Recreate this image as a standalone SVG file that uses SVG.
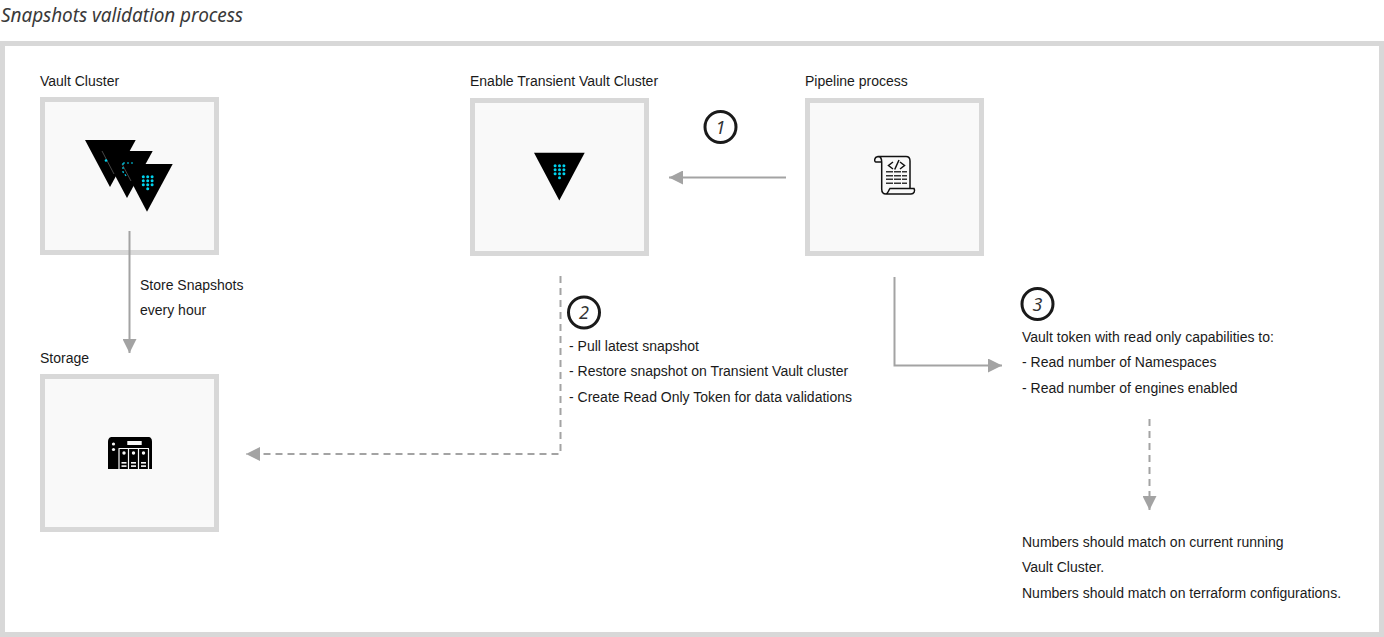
<svg xmlns="http://www.w3.org/2000/svg" width="1384" height="637" viewBox="0 0 1384 637">
<style>
.box{fill:#f9f9f9;stroke:#d8d8d8;stroke-width:5}
.t{font-family:"Liberation Sans",Arial,sans-serif;font-size:14px;fill:#1a1a1a}
.title{font-family:"Noto Sans","Lato",sans-serif;font-style:italic;font-size:19px;fill:#3a3a3a}
.num{font-family:"Noto Sans","Lato",sans-serif;font-style:italic;font-size:18px;fill:#333;text-anchor:middle}
.ring{fill:#fff;stroke:#1a1a1a;stroke-width:3}
.c{fill:none;stroke:#a3a3a3;stroke-width:2}
.d{stroke-dasharray:7 5}
.tri{fill:#000}
.dot{fill:#00d4f0}
.ic{fill:none;stroke:#111;stroke-width:1.500}
</style>
<defs>
<marker id="ah" markerUnits="userSpaceOnUse" markerWidth="15" markerHeight="14" refX="14" refY="7" orient="auto"><path d="M0 0L14 7L0 14Z" fill="#a3a3a3"/></marker>
<g id="dots"><circle cx="-4.400" cy="-4" r="1.500" class="dot"/><circle cx="0" cy="-4" r="1.500" class="dot"/><circle cx="4.400" cy="-4" r="1.500" class="dot"/><circle cx="-4.400" cy="0" r="1.500" class="dot"/><circle cx="0" cy="0" r="1.500" class="dot"/><circle cx="4.400" cy="0" r="1.500" class="dot"/><circle cx="-4.400" cy="4" r="1.500" class="dot"/><circle cx="0" cy="4" r="1.500" class="dot"/><circle cx="4.400" cy="4" r="1.500" class="dot"/><circle cx="0" cy="8" r="1.500" class="dot"/></g>
</defs>
<rect width="1384" height="637" fill="#fff"/>
<text class="title" x="1" y="22" textLength="242" lengthAdjust="spacing">Snapshots validation process</text>
<rect id="frame" x="2.500" y="43.500" width="1379" height="591" fill="#fff" stroke="#d8d8d8" stroke-width="5"/>
<g id="vault-cluster">
<text class="t" x="40" y="86">Vault Cluster</text>
<rect class="box" x="42.500" y="99.500" width="174" height="153"/>
<path class="tri" d="M85 140H135.700L110 187Z"/>
<path class="tri" d="M102 151H152.700L127 198Z"/>
<path class="tri" d="M122 164H172.700L147 211.700Z"/>
<path d="M102 151L114 174M122 164L131 181" stroke="#666" stroke-width=".7" fill="none"/>
<circle cx="106" cy="160.500" r="1.300" class="dot"/>
<path d="M123 163H134M123 163V172L127 177" stroke="#00d4f0" stroke-width="1.200" stroke-dasharray="2 2" fill="none"/>
<use href="#dots" x="147.700" y="180.700"/>
</g>
<g id="transient-vault">
<text class="t" x="470" y="86">Enable Transient Vault Cluster</text>
<rect class="box" x="472.500" y="100.500" width="174" height="153"/>
<path class="tri" d="M534 152.700H584.700L559.300 200.500Z"/>
<use href="#dots" x="559.500" y="169.700"/>
</g>
<g id="pipeline">
<text class="t" x="805" y="86">Pipeline process</text>
<rect class="box" x="807.500" y="100.500" width="174" height="153"/>
<path class="ic" d="M881.700 162H876C874 162 874 157 878 156.500H906C909 156.500 910 158 910 161V188M878 156.500C881 156.500 881.700 159 881.700 162V189C881.700 192 883 194 886 194H911C914 194 915.500 191 914 188.500H890C888.500 190 888.500 193 886 194"/>
<path d="M893 162L888.500 165.500L893 169M900 162L904.500 165.500L900 169M899 160L894.700 169.500" fill="none" stroke="#111" stroke-width="1.500"/>
<path d="M886 171.700H907M886 175.700H907M886 179.300H907M886 183.300H907" stroke="#333" stroke-width="1.500" fill="none" stroke-dasharray="7 1"/>
</g>
<g id="storage">
<text class="t" x="40" y="363">Storage</text>
<rect class="box" x="42.500" y="376.500" width="174" height="153"/>
<path d="M108 442C108 438 110 437 112 437H148C151 437 152 439 152 442V469H108Z" fill="#000"/>
<rect x="127.300" y="441" width="14.400" height="4" fill="#f9f9f9"/>
<circle cx="113.500" cy="444" r="1.600" fill="#f9f9f9"/><circle cx="113.500" cy="449.500" r="1.600" fill="#f9f9f9"/>
<path d="M119 449V469M128.500 449V469M138.500 449V469M148.500 449V469M118.500 448.500H149" stroke="#f9f9f9" stroke-width="1.200" fill="none"/>
<g fill="#f9f9f9"><circle cx="124" cy="453" r="1.700"/><circle cx="133.500" cy="453" r="1.700"/><circle cx="143.500" cy="453" r="1.700"/><rect x="121.500" y="462" width="5" height="1.600"/><rect x="131" y="462" width="5" height="1.600"/><rect x="141" y="462" width="5" height="1.600"/><rect x="121.500" y="465.300" width="5" height="1.600"/><rect x="131" y="465.300" width="5" height="1.600"/><rect x="141" y="465.300" width="5" height="1.600"/></g>
</g>
<g id="connectors">
<path class="c" d="M786 177.500H669" marker-end="url(#ah)"/>
<path class="c" d="M129.500 231V353" marker-end="url(#ah)"/>
<path class="c d" d="M560.500 276V454H246" marker-end="url(#ah)"/>
<path class="c" d="M894.500 277V365.500H1002" marker-end="url(#ah)"/>
<path class="c d" d="M1149.500 419V510" marker-end="url(#ah)"/>
</g>
<g id="step-1"><circle class="ring" cx="720.500" cy="127" r="15.500"/><text class="num" x="720.500" y="133.500">1</text></g>
<g id="step-2"><circle class="ring" cx="584" cy="312.500" r="15.500"/><text class="num" x="584" y="319">2</text></g>
<g id="step-3"><circle class="ring" cx="1037.500" cy="304" r="15.500"/><text class="num" x="1037.500" y="310.500">3</text></g>
<g id="labels">
<text class="t" x="140" y="290">Store Snapshots</text>
<text class="t" x="140" y="315">every hour</text>
<text class="t" x="569" y="351">- Pull latest snapshot</text>
<text class="t" x="569" y="376">- Restore snapshot on Transient Vault cluster</text>
<text class="t" x="569" y="402">- Create Read Only Token for data validations</text>
<text class="t" x="1022" y="342">Vault token with read only capabilities to:</text>
<text class="t" x="1022" y="367">- Read number of Namespaces</text>
<text class="t" x="1022" y="393">- Read number of engines enabled</text>
<text class="t" x="1022" y="547">Numbers should match on current running</text>
<text class="t" x="1022" y="572">Vault Cluster.</text>
<text class="t" x="1022" y="598">Numbers should match on terraform configurations.</text>
</g>
</svg>
